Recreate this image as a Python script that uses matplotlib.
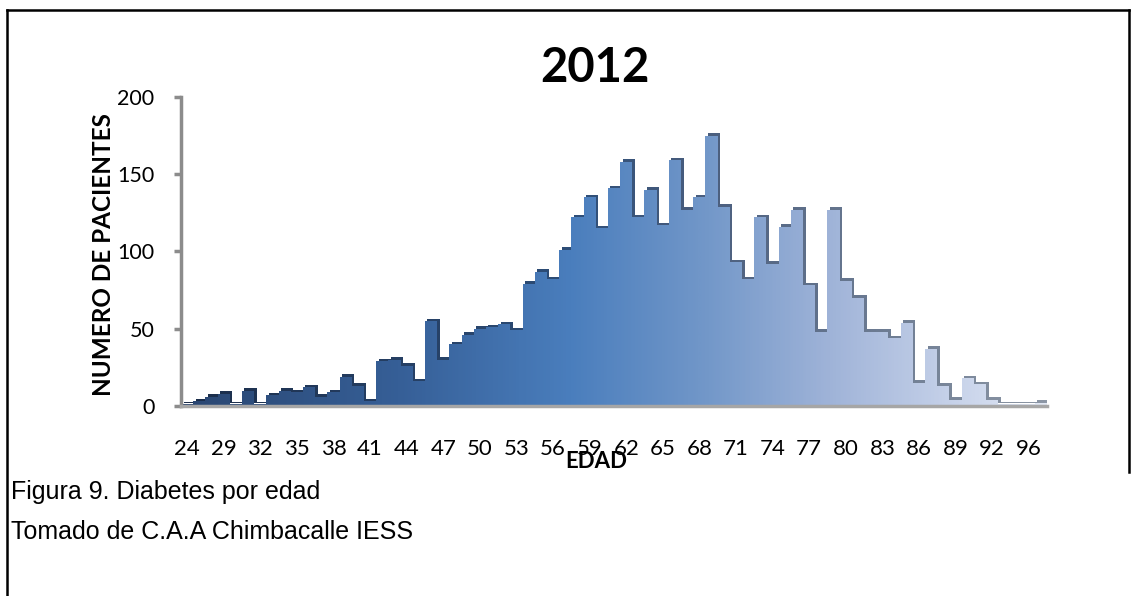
import matplotlib
matplotlib.use("Agg")
import matplotlib.pyplot as plt
import numpy as np
from matplotlib.colors import LinearSegmentedColormap
from matplotlib.transforms import ScaledTranslation
from matplotlib.lines import Line2D

# ages present in the data (categorical axis, only every 3rd labelled)
ages = [24, 25, 27] + list(range(29, 93)) + [93, 95, 96, 98]
patients = [
    1, 3, 6, 8, 1, 10, 1, 7, 10, 9,
    12, 6, 9, 19, 13, 3, 29, 30, 26, 16,
    55, 30, 40, 46, 50, 51, 53, 49, 79, 87,
    82, 101, 122, 135, 115, 141, 158, 122, 140, 117,
    159, 127, 135, 175, 129, 93, 82, 122, 92, 116,
    127, 78, 48, 127, 81, 70, 48, 48, 44, 54,
    15, 37, 13, 4, 18, 14, 4, 1, 1, 1,
    2,
]
yticks = [0, 50, 100, 150, 200]

chart_font = ['Lato', 'DejaVu Sans']
caption_font = ['Liberation Sans', 'DejaVu Sans']

fill_cmap = LinearSegmentedColormap.from_list("fill", [
    (0.0, "#2A4671"), (0.25, "#365F97"), (0.45, "#4A7EBD"),
    (0.6, "#7096C8"), (0.75, "#9FB3D8"), (0.9, "#C8D3EA"), (1.0, "#E2E8F4"),
])
edge_cmap = LinearSegmentedColormap.from_list("edge", [
    (0.0, "#1B2D4A"), (0.45, "#2E4E78"), (0.6, "#4A5E7E"), (1.0, "#8E98A6"),
])

fig = plt.figure(figsize=(11.32, 5.96), dpi=100)
ax = fig.add_axes([0.1599, 0.3188, 0.765, 0.5185])

n = len(ages)
edges = np.arange(n + 1)

# clip shapes: front face and an up/right shifted copy for the 3D rim
front = ax.stairs(patients, edges, baseline=0, fill=True,
                  facecolor='none', linewidth=0)
off = ScaledTranslation(2.5 / 100, 2.5 / 100, fig.dpi_scale_trans)
back = ax.stairs(patients, edges, baseline=0, fill=True,
                 facecolor='none', linewidth=0, transform=ax.transData + off)

grad = np.linspace(0, 1, 600).reshape(1, -1)
im_back = ax.imshow(grad, extent=(0, n + 0.5, 0, 205), aspect='auto',
                    cmap=edge_cmap, zorder=1, interpolation='bilinear')
im_back.set_clip_path(back)
im_front = ax.imshow(grad, extent=(0, n, 0, 200), aspect='auto',
                     cmap=fill_cmap, zorder=2, interpolation='bilinear')
im_front.set_clip_path(front)
ax.set_xlim(0, n)
ax.set_ylim(0, 200)

# axes styling
for s in ['top', 'right']:
    ax.spines[s].set_visible(False)
ax.spines['left'].set_color('#8C8C8C')
ax.spines['left'].set_linewidth(2.5)
ax.spines['bottom'].set_color('#A6A6A6')
ax.spines['bottom'].set_linewidth(2.5)
ax.spines['bottom'].set_zorder(3)

ax.set_yticks(yticks)
ax.tick_params(axis='y', direction='out', length=5, width=2.5, color='#8C8C8C',
               pad=14, labelsize=15.5)
ax.set_xticks(edges[:-1][::3] + 0.5)
ax.set_xticklabels([str(a) for a in ages[::3]])
ax.tick_params(axis='x', length=0, pad=24, labelsize=16)
for lab in ax.get_xticklabels() + ax.get_yticklabels():
    lab.set_family(chart_font)

ax.set_ylabel("NUMERO DE PACIENTES", fontsize=17.5, fontweight='bold',
              family=chart_font)
ax.yaxis.set_label_coords(-0.0765, 0.49)
ax.set_xlabel("EDAD", fontsize=16, fontweight='bold', family=chart_font,
              va='center')
ax.xaxis.set_label_coords(0.48, -0.178)

fig.text(0.5256, 0.886, "2012", fontsize=34, fontweight='bold',
         family=chart_font, ha='center', va='center')

# frame around the chart and the caption lines
x0, x1 = 7 / 1132, 1129 / 1132
ytop, yright = 1 - 10 / 596, 1 - 472 / 596
fig.add_artist(Line2D([x0, x1], [ytop, ytop], color='black', lw=1.8,
                      transform=fig.transFigure))
fig.add_artist(Line2D([x1, x1], [ytop, yright], color='black', lw=1.8,
                      transform=fig.transFigure))
fig.add_artist(Line2D([x0, x0], [ytop, 0], color='black', lw=1.8,
                      transform=fig.transFigure))

fig.text(0.0095, 1 - 492 / 596, "Figura 9. Diabetes por edad", fontsize=18,
         family=caption_font, va='center', ha='left')
fig.text(0.0095, 1 - 532 / 596, "Tomado de C.A.A Chimbacalle IESS",
         fontsize=18, family=caption_font, va='center', ha='left')

fig.savefig("out.png", dpi=100, facecolor='white')
